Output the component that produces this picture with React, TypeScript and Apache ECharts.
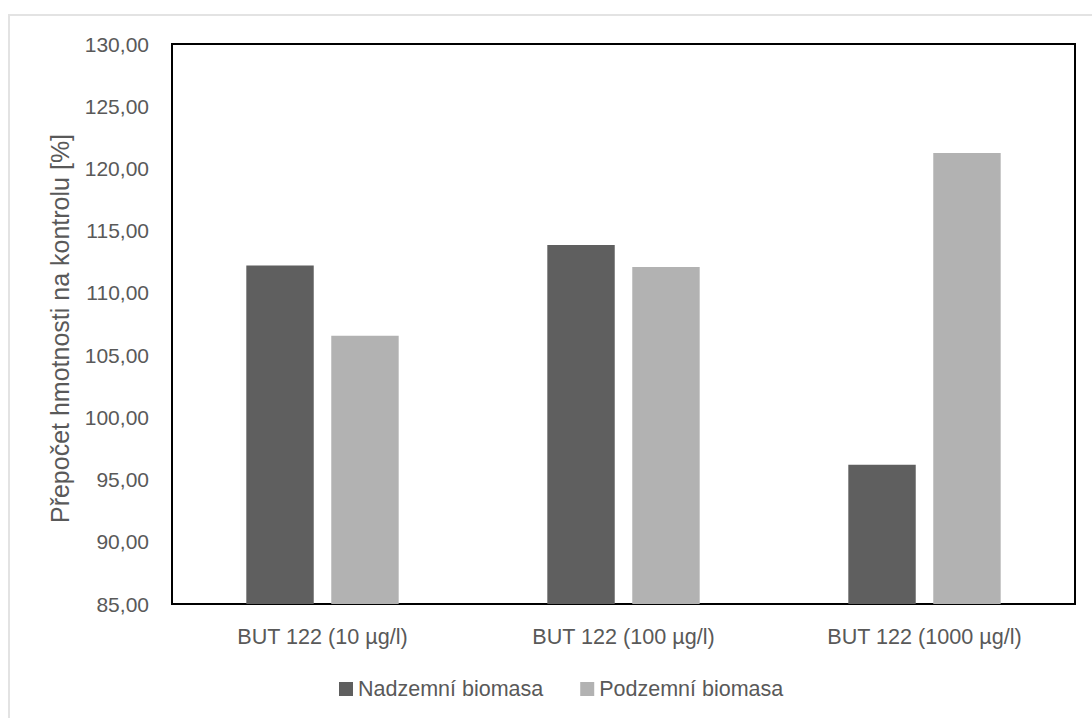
import React, { useEffect, useRef } from "react";
import * as echarts from "echarts";

const categories = ["BUT 122 (10 µg/l)", "BUT 122 (100 µg/l)", "BUT 122 (1000 µg/l)"];
const nadzemni = [112.21, 113.85, 96.19];
const podzemni = [106.56, 112.08, 121.24];
const seriesNames = ["Nadzemní biomasa", "Podzemní biomasa"];
const yTitle = "Přepočet hmotnosti na kontrolu [%]";

const FONT = "'Liberation Sans', Arial, sans-serif";
const TXT = "#595959";

export default function App() {
  const ref = useRef<HTMLDivElement>(null);
  useEffect(() => {
    if (!ref.current) return;
    const chart = echarts.init(ref.current, null, { renderer: "svg" });
    chart.setOption({
      animation: false,
      backgroundColor: "#ffffff",
      textStyle: { fontFamily: FONT },
      graphic: [
        {
          type: "rect",
          shape: { x: 9, y: 15, width: 1100, height: 720 },
          style: { fill: "none", stroke: "#e3e3e3", lineWidth: 2 },
          silent: true,
          z: -10,
        },
      ],
      grid: {
        left: 172,
        top: 44,
        right: 17,
        bottom: 114,
        show: true,
        borderColor: "#000000",
        borderWidth: 2,
        backgroundColor: "transparent",
      },
      legend: {
        data: seriesNames,
        left: 334,
        top: 673,
        itemWidth: 14,
        itemHeight: 14,
        itemGap: 37,
        icon: "rect",
        textStyle: { color: TXT, fontSize: 21.5, fontFamily: FONT },
      },
      xAxis: {
        type: "category",
        data: categories,
        axisLine: { show: true, lineStyle: { color: "#000000", width: 2 } },
        axisTick: { show: false },
        axisLabel: { color: TXT, fontSize: 21.6, margin: 21, fontFamily: FONT },
        splitLine: { show: false },
      },
      yAxis: {
        type: "value",
        min: 85,
        max: 130,
        interval: 5,
        name: yTitle,
        nameLocation: "middle",
        nameRotate: 90,
        nameGap: 100,
        nameTextStyle: { color: TXT, fontSize: 25, fontFamily: FONT, padding: [0, 9, 0, 0] },
        axisLine: { show: true, lineStyle: { color: "#000000", width: 2 } },
        axisTick: { show: false },
        splitLine: { show: false },
        axisLabel: {
          color: TXT,
          fontSize: 21,
          margin: 23,
          fontFamily: FONT,
          formatter: (v: number) => v.toFixed(2).replace(".", ","),
        },
      },
      series: [
        {
          name: seriesNames[0],
          type: "bar",
          data: nadzemni,
          barWidth: "22.4%",
          barGap: "26%",
          itemStyle: { color: "#5f5f5f" },
        },
        {
          name: seriesNames[1],
          type: "bar",
          data: podzemni,
          barWidth: "22.4%",
          itemStyle: { color: "#b2b2b2" },
        },
      ],
    });
    return () => chart.dispose();
  }, []);
  return (
    <div
      ref={ref}
      style={{ position: "fixed", left: 0, top: 0, width: 1092, height: 718 }}
    />
  );
}
